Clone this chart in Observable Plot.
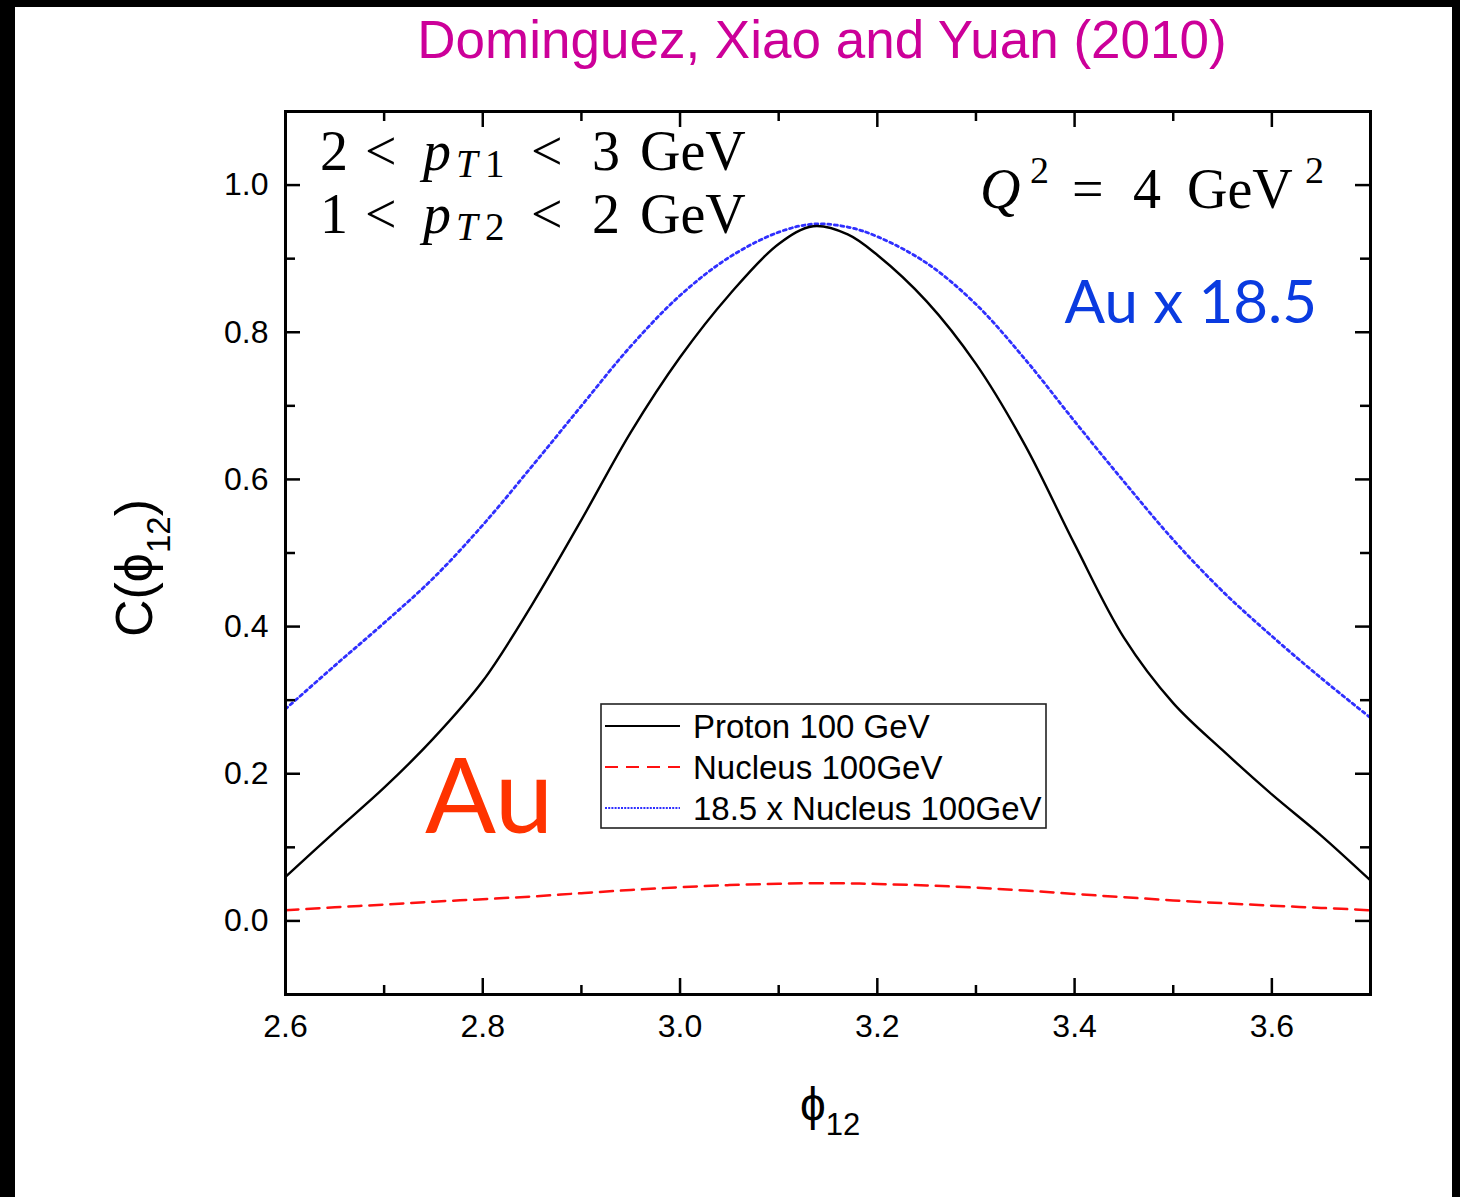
<!DOCTYPE html>
<html>
<head>
<meta charset="utf-8">
<script src="https://cdn.jsdelivr.net/npm/d3@7"></script>
<script src="https://cdn.jsdelivr.net/npm/@observablehq/plot@0.6"></script>
<style>
html, body { margin: 0; padding: 0; background: #000; width: 1460px; height: 1197px; overflow: hidden; }
#panel { position: absolute; left: 15px; top: 7px; width: 1437px; height: 1190px; background: #fff; overflow: hidden; }
#panel svg { display: block; }
</style>
</head>
<body>
<div id="panel"></div>
<script>
// ---- data ----
const phi        = [2.60, 2.65, 2.70, 2.75, 2.80, 2.85, 2.90, 2.95, 3.00, 3.05, 3.10, 3.135, 3.17, 3.20, 3.25, 3.30, 3.35, 3.40, 3.45, 3.50, 3.55, 3.60, 3.65, 3.70];
const proton     = [0.060, 0.121, 0.181, 0.248, 0.326, 0.430, 0.545, 0.664, 0.766, 0.851, 0.920, 0.944, 0.933, 0.905, 0.842, 0.757, 0.646, 0.512, 0.385, 0.296, 0.232, 0.172, 0.116, 0.055];
const nucleus    = [0.0146, 0.0185, 0.0222, 0.0262, 0.0295, 0.0332, 0.0377, 0.0420, 0.0458, 0.0487, 0.0505, 0.0512, 0.0510, 0.0502, 0.0482, 0.0452, 0.0412, 0.0366, 0.0322, 0.0279, 0.0241, 0.0207, 0.0177, 0.0145];
const nucleus185 = [0.288, 0.347, 0.405, 0.466, 0.538, 0.618, 0.700, 0.781, 0.850, 0.902, 0.936, 0.947, 0.943, 0.930, 0.894, 0.838, 0.763, 0.679, 0.597, 0.518, 0.448, 0.387, 0.330, 0.276];

const seriesNames = ["Proton 100 GeV", "Nucleus 100GeV", "18.5 x Nucleus 100GeV"];
const xMajorTicks = [2.6, 2.8, 3.0, 3.2, 3.4, 3.6];
const xMinorTicks = [2.7, 2.9, 3.1, 3.3, 3.5];
const yMajorTicks = [0.0, 0.2, 0.4, 0.6, 0.8, 1.0];
const yMinorTicks = [0.1, 0.3, 0.5, 0.7, 0.9];
const titleText = "Dominguez, Xiao and Yuan (2010)";

// ---- layout ----
const W = 1437, H = 1190;
const mL = 270, mR = 82, mT = 104, mB = 203;
const iW = W - mL - mR, iH = H - mT - mB;

const rows = phi.map((p, i) => ({phi: p, proton: proton[i], nucleus: nucleus[i], scaled: nucleus185[i]}));
const f1 = d3.format(".1f");
const tickW = 2.5;
const cBlack = "#000", cRed = "#ff1010", cBlue = "#2f2fff";

const chart = Plot.plot({
  width: W, height: H,
  marginLeft: mL, marginRight: mR, marginTop: mT, marginBottom: mB,
  style: {fontFamily: "'Liberation Sans', Arial, sans-serif", background: "transparent", color: "#000"},
  x: {domain: [2.6, 3.7]},
  y: {domain: [-0.1, 1.1]},
  marks: [
    Plot.line(rows, {x: "phi", y: "nucleus", stroke: cRed, strokeWidth: 2.5, strokeDasharray: "13,8", curve: "catmull-rom"}),
    Plot.line(rows, {x: "phi", y: "scaled", stroke: cBlue, strokeWidth: 2.8, strokeDasharray: "3,3.5", curve: "catmull-rom"}),
    Plot.line(rows, {x: "phi", y: "proton", stroke: cBlack, strokeWidth: 2.4, curve: "catmull-rom"}),
    // inward ticks: bottom
    Plot.ruleX(xMajorTicks, {insetTop: iH - 16, strokeWidth: tickW}),
    Plot.ruleX(xMinorTicks, {insetTop: iH - 9, strokeWidth: tickW}),
    // top
    Plot.ruleX(xMajorTicks, {insetBottom: iH - 16, strokeWidth: tickW}),
    Plot.ruleX(xMinorTicks, {insetBottom: iH - 10, strokeWidth: tickW}),
    // left
    Plot.ruleY(yMajorTicks, {insetRight: iW - 15, strokeWidth: tickW}),
    Plot.ruleY(yMinorTicks, {insetRight: iW - 10, strokeWidth: tickW}),
    // right
    Plot.ruleY(yMajorTicks, {insetLeft: iW - 15, strokeWidth: tickW}),
    Plot.ruleY(yMinorTicks, {insetLeft: iW - 10, strokeWidth: tickW}),
    Plot.axisX({ticks: xMajorTicks, tickSize: 0, tickPadding: 20, fontSize: 32, label: null, tickFormat: f1}),
    Plot.axisY({ticks: yMajorTicks, tickSize: 0, tickPadding: 17, fontSize: 32, label: null, tickFormat: f1}),
    Plot.frame({stroke: "#000", strokeWidth: 3})
  ]
});

document.getElementById("panel").appendChild(chart);
const svg = d3.select(chart);
const sans = "'Liberation Sans', Arial, sans-serif";
const serif = "'Liberation Serif', 'Times New Roman', serif";
const gill = "Lato, 'Open Sans', sans-serif";
const ann = svg.append("g").attr("text-anchor", "start");

// Title
svg.append("text").attr("x", 807).attr("y", 51).attr("text-anchor", "middle")
  .attr("font-family", sans).attr("font-size", 53).attr("fill", "#cc0099").text(titleText);

// LaTeX-style annotations
function mathLine(yb, a, sub, b) {
  const t = ann.append("text").attr("y", yb).attr("font-family", serif).attr("font-size", 56).attr("fill", "#000");
  t.append("tspan").attr("x", 305).text(a);
  t.append("tspan").attr("x", 350).text("<");
  t.append("tspan").attr("x", 408).attr("font-style", "italic").text("p");
  t.append("tspan").attr("x", 441).attr("dy", 7).attr("font-size", 39).attr("font-style", "italic").text("T");
  t.append("tspan").attr("x", 470).attr("font-size", 39).text(sub);
  t.append("tspan").attr("x", 516).attr("dy", -7).text("<");
  t.append("tspan").attr("x", 577).text(b);
  t.append("tspan").attr("x", 625).text("GeV");
}
mathLine(163, "2", "1", "3");
mathLine(226, "1", "2", "2");

const q = ann.append("text").attr("y", 201).attr("font-family", serif).attr("font-size", 56).attr("fill", "#000");
q.append("tspan").attr("x", 965).attr("font-style", "italic").text("Q");
q.append("tspan").attr("x", 1015).attr("dy", -25).attr("font-size", 38).text("2");
q.append("tspan").attr("x", 1057).attr("dy", 25).text("=");
q.append("tspan").attr("x", 1118).text("4");
q.append("tspan").attr("x", 1172).text("GeV");
q.append("tspan").attr("x", 1290).attr("dy", -25).attr("font-size", 38).text("2");

ann.append("text").attr("x", 1302).attr("y", 316).attr("text-anchor", "end")
  .attr("font-family", gill).attr("font-size", 60).attr("fill", "#0a3be0").text("Au x 18.5");

ann.append("text").attr("x", 410).attr("y", 826)
  .attr("font-family", gill).attr("font-size", 105).attr("fill", "#ff3300").text("Au");

// Legend
const lg = ann.append("g");
lg.append("rect").attr("x", 586).attr("y", 697).attr("width", 445).attr("height", 124)
  .attr("fill", "#fff").attr("stroke", "#222").attr("stroke-width", 1.6);
const legendStyles = [
  {stroke: cBlack, dash: null},
  {stroke: cRed, dash: "13,8"},
  {stroke: cBlue, dash: "2,1.2"}
];
seriesNames.forEach((name, i) => {
  const cy = 719 + i * 41;
  const ln = lg.append("line").attr("x1", 590).attr("x2", 665).attr("y1", cy).attr("y2", cy)
    .attr("stroke", legendStyles[i].stroke).attr("stroke-width", 2.2);
  if (legendStyles[i].dash) ln.attr("stroke-dasharray", legendStyles[i].dash);
  lg.append("text").attr("x", 678).attr("y", cy + 12).attr("font-family", sans).attr("font-size", 33)
    .attr("fill", "#000").text(name);
});

// Axis labels
const xl = ann.append("text").attr("x", 785).attr("y", 1113).attr("font-family", sans).attr("font-size", 46).attr("fill", "#000");
xl.append("tspan").text("ϕ");
xl.append("tspan").attr("dy", 15).attr("font-size", 31).text("12");

const yl = ann.append("text").attr("transform", "translate(137,630) rotate(-90)")
  .attr("font-family", sans).attr("font-size", 52).attr("fill", "#000");
yl.append("tspan").text("C(");
yl.append("tspan").text("ϕ");
yl.append("tspan").attr("dy", 18).attr("font-size", 33).text("12");
yl.append("tspan").attr("dy", -18).text(")");
</script>
</body>
</html>
